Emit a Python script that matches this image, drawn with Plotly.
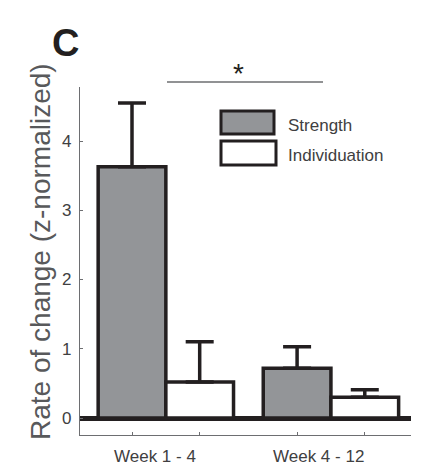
import plotly.graph_objects as go

# ---- data ----
groups = ["Week 1 - 4", "Week 4 - 12"]
group_pos = [1, 2]
strength_mean = [3.63, 0.72]
strength_err = [0.92, 0.31]
indiv_mean = [0.52, 0.30]
indiv_err = [0.58, 0.11]
series_names = ["Strength", "Individuation"]
y_ticks = [0, 1, 2, 3, 4]

OFF = 8  # default page body margin
W, H = 426 - OFF, 468 - OFF
# plot area in reference (window) pixel coords: left 80, right 411, top 87, bottom 435
L, R, T, B = 80 - OFF, 426 - 411, 87 - OFF, 468 - 435
PW, PH = W - L - R, H - T - B

def px(x):
    return (x - OFF - L) / PW

def py(y):
    return (H - B - (y - OFF)) / PH

FONT = "Liberation Sans, Arial, Helvetica, sans-serif"
GRAY_FILL = "#939598"
BLACK = "#231f20"
AXIS = "#6d6e71"
TXT = "#404041"
BW = 0.41

fig = go.Figure()
fig.add_trace(go.Bar(
    x=group_pos, y=strength_mean, width=BW, offset=-BW,
    marker=dict(color=GRAY_FILL, line=dict(color=BLACK, width=3.5)),
    error_y=dict(type="data", symmetric=False, array=strength_err, arrayminus=[0, 0],
                 color=BLACK, thickness=3.5, width=14),
    name=series_names[0], showlegend=False,
))
fig.add_trace(go.Bar(
    x=group_pos, y=indiv_mean, width=BW, offset=0,
    marker=dict(color="white", line=dict(color=BLACK, width=3.5)),
    error_y=dict(type="data", symmetric=False, array=indiv_err, arrayminus=[0, 0],
                 color=BLACK, thickness=3.5, width=14),
    name=series_names[1], showlegend=False,
))

tick_centers = [p - BW / 2 for p in group_pos] + [p + BW / 2 for p in group_pos]

fig.update_layout(
    width=W, height=H,
    margin=dict(l=L, r=R, t=T, b=B),
    paper_bgcolor="white", plot_bgcolor="white",
    font=dict(family=FONT, color=TXT, size=17),
    barmode="overlay",
    xaxis=dict(range=[0.48, 2.485], showgrid=False, zeroline=False,
               showline=True, linecolor=AXIS, linewidth=1.2,
               tickmode="array", tickvals=sorted(tick_centers),
               ticktext=[""] * 4, ticks="inside", ticklen=3,
               tickcolor=AXIS, tickwidth=1),
    yaxis=dict(range=[-0.245, 4.78], showgrid=False,
               zeroline=True, zerolinecolor=BLACK, zerolinewidth=4.5,
               showline=True, linecolor=AXIS, linewidth=1.2,
               tickmode="array", tickvals=y_ticks,
               ticks="inside", ticklen=3, tickcolor=AXIS, tickwidth=1,
               tickfont=dict(size=17, color=TXT), ticklabelstandoff=4),
)

# x category labels
label_x = [0.934, 1.922]
for g, xv in zip(groups, label_x):
    fig.add_annotation(x=xv, xref="x", y=py(456), yref="paper", text=g,
                       showarrow=False, font=dict(size=17, color=TXT),
                       xanchor="center", yanchor="middle")

# y title
fig.add_annotation(x=px(40), y=py(252), xref="paper", yref="paper",
                   text="Rate of change (z-normalized)", textangle=-90,
                   showarrow=False, font=dict(size=28, color="#58595b"),
                   xanchor="center", yanchor="middle")

# panel letter
fig.add_annotation(x=px(65), y=py(43), xref="paper", yref="paper",
                   text="<b>C</b>", showarrow=False,
                   font=dict(size=38, color=BLACK),
                   xanchor="center", yanchor="middle")

# significance bracket
fig.add_shape(type="line", xref="paper", yref="paper",
              x0=px(167), x1=px(323), y0=py(82), y1=py(82),
              line=dict(color=AXIS, width=1.5))
fig.add_annotation(x=px(238), y=py(73), xref="paper", yref="paper",
                   text="*", showarrow=False, font=dict(size=28, color=BLACK),
                   xanchor="center", yanchor="middle")

# legend
legend_boxes = [(221, 111, 274, 134, GRAY_FILL), (221, 141, 276, 165, "white")]
legend_text_y = [125, 155]
for name, (x0, y0, x1, y1, col), ty in zip(series_names, legend_boxes, legend_text_y):
    fig.add_shape(type="rect", xref="paper", yref="paper",
                  x0=px(x0), x1=px(x1), y0=py(y1), y1=py(y0),
                  fillcolor=col, line=dict(color=BLACK, width=3))
    fig.add_annotation(x=px(286), y=py(ty), xref="paper", yref="paper",
                       text=name, showarrow=False, font=dict(size=17, color=TXT),
                       xanchor="left", yanchor="middle")

fig.write_html("out.html")
